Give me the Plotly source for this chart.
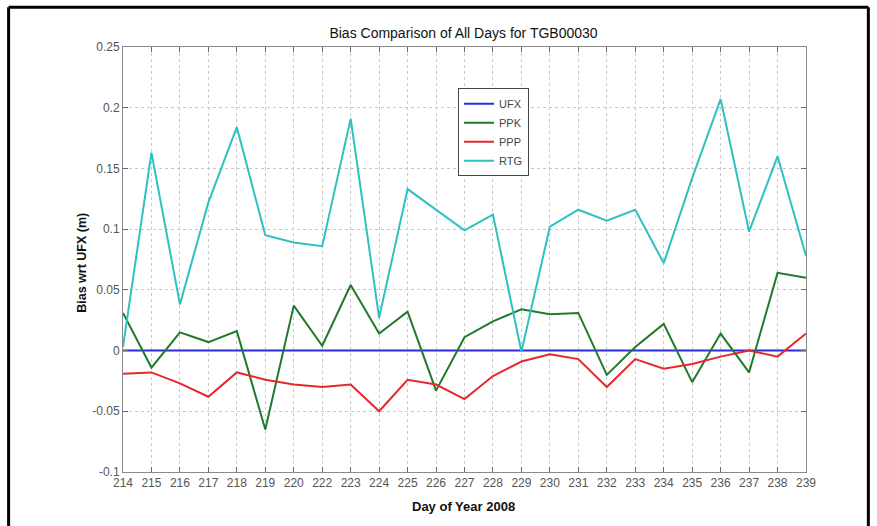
import plotly.graph_objects as go

days = ["214", "215", "216", "217", "218", "219", "220", "222", "223", "224", "225", "226",
        "227", "228", "229", "230", "231", "232", "233", "234", "235", "236", "237", "238", "239"]

ufx = [0.0] * 25
ppk = [0.031, -0.014, 0.015, 0.007, 0.016, -0.065, 0.037, 0.004, 0.054, 0.014, 0.032, -0.033,
       0.011, 0.024, 0.034, 0.030, 0.031, -0.020, 0.003, 0.022, -0.026, 0.014, -0.018, 0.064, 0.060]
ppp = [-0.019, -0.018, -0.027, -0.038, -0.018, -0.024, -0.028, -0.030, -0.028, -0.050, -0.024, -0.028,
       -0.040, -0.021, -0.009, -0.003, -0.007, -0.030, -0.007, -0.015, -0.011, -0.005, 0.000, -0.005, 0.014]
rtg = [0.003, 0.163, 0.038, 0.122, 0.184, 0.095, 0.089, 0.086, 0.191, 0.027, 0.133, 0.116,
       0.099, 0.112, -0.001, 0.102, 0.116, 0.107, 0.116, 0.072, 0.142, 0.207, 0.098, 0.160, 0.078]

y_tickvals = [-0.1, -0.05, 0, 0.05, 0.1, 0.15, 0.2, 0.25]
y_ticktext = ["-0.1", "-0.05", "0", "0.05", "0.1", "0.15", "0.2", "0.25"]

series = [("UFX", ufx, "#2b2bdc"), ("PPK", ppk, "#1f7a2a"), ("PPP", ppp, "#e6282c"), ("RTG", rtg, "#2fc0c0")]

fig = go.Figure()
for name, vals, col in series:
    fig.add_trace(go.Scatter(x=days, y=vals, name=name, mode="lines",
                             line=dict(color=col, width=2)))

font_family = "Liberation Sans, Arial, sans-serif"
axis_common = dict(showline=True, linecolor="#8a8a8a", linewidth=1, mirror="allticks",
                   ticks="inside", ticklen=5, tickcolor="#6a6a6a",
                   showgrid=True, gridcolor="#c8c8c8", griddash="dot", gridwidth=1,
                   zeroline=False, tickfont=dict(family=font_family, size=12, color="#555555"))

fig.update_xaxes(type="category", range=[0, 24], **axis_common)
fig.update_yaxes(range=[-0.1, 0.25], tickvals=y_tickvals, ticktext=y_ticktext, **axis_common)

L, R = 123.3, 805.7
T, B = 46.7, 472.0
W, H = 877, 526

def px(xp):
    return (xp - L) / (R - L)

def py(yp):
    return (B - yp) / (B - T)

fig.update_layout(
    width=W, height=H,
    margin=dict(l=L, r=W - R, t=T, b=H - B),
    paper_bgcolor="white", plot_bgcolor="white",
    font=dict(family=font_family),
    title=dict(text="Bias Comparison of All Days for TGB00030", x=px(463.5), xref="paper",
               xanchor="center", y=1 - 33 / H, yref="container", yanchor="middle",
               font=dict(size=14, color="#111111", family=font_family)),
    legend=dict(x=px(458), y=py(88), xanchor="left", yanchor="top",
                bgcolor="white", bordercolor="#444444", borderwidth=1,
                font=dict(size=11, color="#444444", family=font_family),
                itemwidth=30, tracegroupgap=0),
    showlegend=True,
    annotations=[
        dict(text="<b>Bias wrt UFX (m)</b>", x=px(82), y=py(263), xref="paper", yref="paper",
             textangle=-90, showarrow=False, xanchor="center", yanchor="middle",
             font=dict(size=12.5, color="#111111", family=font_family)),
        dict(text="<b>Day of Year 2008</b>", x=px(463.5), y=py(507), xref="paper", yref="paper",
             showarrow=False, xanchor="center", yanchor="middle",
             font=dict(size=13, color="#111111", family=font_family)),
    ],
    shapes=[
        dict(type="line", xref="paper", yref="paper", x0=px(9), x1=px(9), y0=py(7), y1=py(530),
             line=dict(color="black", width=3)),
        dict(type="line", xref="paper", yref="paper", x0=px(9), x1=px(868), y0=py(7), y1=py(7),
             line=dict(color="black", width=3)),
        dict(type="line", xref="paper", yref="paper", x0=px(868), x1=px(868), y0=py(7), y1=py(530),
             line=dict(color="black", width=3)),
    ],
)

fig.write_html("out.html", config={"displayModeBar": False},
               post_script="document.body.style.margin='0';")
